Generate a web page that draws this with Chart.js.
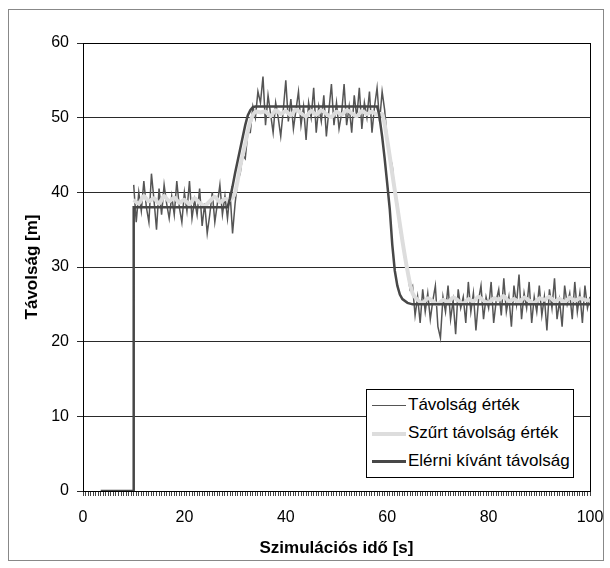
<!DOCTYPE html>
<html>
<head>
<meta charset="utf-8">
<script src="https://cdn.jsdelivr.net/npm/chart.js@4/dist/chart.umd.min.js"></script>
<style>
  body { margin: 0; background: #fff; }
  #wrap { position: relative; width: 610px; height: 568px; }
  #frame { position: absolute; left: 8px; top: 9px; width: 594px; height: 550px; border: 1px solid #888; pointer-events: none; }
  #legend { position: absolute; left: 366px; top: 389px; width: 206px; height: 86px; border: 1px solid #000; background: #fff;
            font-family: "Liberation Sans", Arial, sans-serif; font-size: 17px; color: #000; padding-top: 1px; box-sizing: content-box; }
  #legend .row { height: 28px; line-height: 28px; white-space: nowrap; }
  #legend .swatch { display: inline-block; width: 34px; margin-left: 5px; margin-right: 2px; vertical-align: middle; }
</style>
</head>
<body>
<div id="wrap">
  <canvas id="chart" width="610" height="568"></canvas>
  <div id="frame"></div>
  <div id="legend"></div>
</div>
<script>
const seriesNames = ['Távolság érték', 'Szűrt távolság érték', 'Elérni kívánt távolság'];
const xTitle = 'Szimulációs idő [s]';
const yTitle = 'Távolság [m]';

// measured distance, one sample every 0.5 s from 10 s to 100 s
const rawStart = 10;
const rawStep = 0.5;
const rawValues = [
  // 10 .. 29.5
  41, 36, 40, 37.5, 41.5, 38, 36, 42.5, 39, 35,
  40.5, 37, 41, 38.5, 36.5, 39.5, 37, 41.5, 38, 36,
  40, 37.5, 41.5, 36.5, 39, 37, 40.5, 35.5, 38.5, 34.5,
  37, 40, 36, 38.5, 41, 37, 39.5, 36.5, 40, 34.5,
  // 30 .. 35.5
  38.5, 41.5, 42.5, 45, 44.5, 48, 48, 51.5, 50, 53.5, 52, 55.5,
  // 36 .. 59.5
  49, 53, 50.5, 48, 52, 50, 47.5, 51, 55, 49.5,
  52.5, 48.5, 51, 53.5, 49, 51.5, 47, 52, 50, 54,
  48, 51.5, 49.5, 53, 47.5, 51, 54.5, 49, 52, 48.5,
  50.5, 54.5, 49, 51.5, 48, 53, 50, 54, 48.5, 52,
  50, 53.5, 48, 51.5, 54, 49.5, 53.5, 51,
  // 60 .. 66
  47, 45, 43.5, 40, 38.5, 35, 33.5, 31, 29.5, 27, 27.5, 23.5, 26,
  // 66.5 .. 100
  22.5, 27, 24, 26.5, 23, 25.5, 27.5, 22, 20.5, 26,
  24, 27.5, 23, 25.5, 21, 27, 24.5, 26, 22.5, 28,
  24, 26.5, 21.5, 25.5, 27.5, 23, 26, 24.5, 28, 22.5,
  25.5, 27, 23.5, 28.5, 24, 26, 22, 27.5, 25, 29,
  23, 26.5, 24.5, 28, 22.5, 26, 24, 27.5, 23.5, 26,
  21.5, 27, 24.5, 28.5, 23, 25.5, 22, 27.5, 25, 26.5,
  23, 28, 24, 26.5, 22.5, 27.5, 24.5, 26
];

// filtered distance, one sample every 1 s from 10 s to 100 s
const filtStart = 10;
const filtStep = 1;
const filtValues = [
  39, 38.5, 39.5, 38.8, 39.2, 38.5, 39.5, 38.8, 39.3, 38.6,
  39, 38.4, 39.2, 38.6, 38.2, 38.8, 39.4, 38.7, 39.1,
  39, 40, 43.5, 46.5, 49.5, 50.8, 50.7,
  50.8, 50.2, 51, 50.5, 50.9, 50.3, 51.1, 50.6, 50.2, 50.9,
  50.4, 51, 50.5, 50.1, 50.8, 50.4, 51, 50.6, 50.2, 50.9,
  50.5, 50.8, 50.4, 50.5,
  47, 42.5, 38, 33.5, 29.5, 26.5, 25.6,
  25.2, 25.8, 25.4, 25, 25.6, 25.3, 25.9, 25.5, 25.1, 25.7,
  25.4, 26, 25.5, 25.2, 25.8, 25.6, 26.1, 25.4, 25.7, 25.3,
  25.9, 25.5, 25.2, 25.8, 25.6, 26, 25.4, 25.7, 25.3, 25.9,
  25.5, 25.8, 25.6, 25.5
];

// desired distance
const desiredTimes = [3.5, 10, 10, 28.5, 29, 29.5, 30, 31, 32, 32.5, 33, 33.5, 34, 58, 58.4, 59, 59.5, 60, 60.5, 61, 61.5, 62, 62.5, 63, 64, 65, 100];
const desiredValues = [0, 0, 38, 38, 39.2, 40.8, 42.6, 45.8, 49, 50.3, 51, 51.4, 51.5, 51.5, 50.5, 47.5, 44.5, 41.2, 37.8, 33, 29.5, 27.5, 26.3, 25.7, 25.2, 25, 25];

const xTicks = [0, 20, 40, 60, 80, 100];
const yTicks = [0, 10, 20, 30, 40, 50, 60];

const colors = ['#555555', '#dddddd', '#474747'];
const widths = [1.5, 4, 2.5];
const font = '"Liberation Sans", Arial, sans-serif';

const rawData = rawValues.map((v, i) => ({ x: rawStart + i * rawStep, y: v }));
const filtData = filtValues.map((v, i) => ({ x: filtStart + i * filtStep, y: v }));
const desiredData = desiredTimes.map((t, i) => ({ x: t, y: desiredValues[i] }));

// Plot area frame
const frameBox = {
    id: 'frameBox',
    afterDatasetsDraw(chart) {
        const a = chart.chartArea;
        const c = chart.ctx;
        c.save();
        c.strokeStyle = '#000';
        c.lineWidth = 1;
        c.strokeRect(Math.round(a.left) + 0.5, Math.round(a.top) + 0.5, Math.round(a.right - a.left), Math.round(a.bottom - a.top));
        c.restore();
    }
};

new Chart(document.getElementById('chart').getContext('2d'), {
    type: 'line',
    data: {
        datasets: [
            { label: seriesNames[0], data: rawData, borderColor: colors[0], borderWidth: widths[0], pointRadius: 0, tension: 0, order: 3 },
            { label: seriesNames[1], data: filtData, borderColor: colors[1], borderWidth: widths[1], pointRadius: 0, tension: 0.3, order: 2 },
            { label: seriesNames[2], data: desiredData, borderColor: colors[2], borderWidth: widths[2], pointRadius: 0, tension: 0, order: 1 }
        ]
    },
    options: {
        responsive: false,
        animation: false,
        devicePixelRatio: 1,
        layout: { padding: { left: 20, right: 20, top: 43, bottom: 5 } },
        plugins: { legend: { display: false }, tooltip: { enabled: false } },
        scales: {
            x: {
                type: 'linear',
                min: 0,
                max: 100,
                afterFit: s => { s.height = 72; s.paddingLeft = 0; s.paddingRight = 0; },
                ticks: {
                    stepSize: 0.5,
                    autoSkip: false,
                    maxRotation: 0,
                    padding: 12,
                    color: '#000',
                    font: { family: font, size: 16 },
                    callback: v => xTicks.includes(v) ? String(v) : ''
                },
                grid: { drawOnChartArea: false, tickLength: 5, color: '#444' },
                border: { color: '#000', width: 1 },
                title: { display: true, text: xTitle, color: '#000', font: { family: font, size: 17, weight: 'bold' }, padding: { top: 4, bottom: 4 } }
            },
            y: {
                min: 0,
                max: 60,
                afterFit: s => { s.width = 63; },
                afterBuildTicks: s => { s.ticks = yTicks.map(v => ({ value: v })); },
                ticks: { padding: 8, color: '#000', font: { family: font, size: 16 } },
                grid: { color: '#2a2a2a', tickLength: 6 },
                border: { color: '#000', width: 1 },
                title: { display: true, text: yTitle, color: '#000', font: { family: font, size: 17, weight: 'bold' }, padding: { top: 2, bottom: 4 } }
            }
        }
    },
    plugins: [frameBox]
});

// Legend box inside the plot
const legend = document.getElementById('legend');
seriesNames.forEach((name, i) => {
    const row = document.createElement('div');
    row.className = 'row';
    const sw = document.createElement('span');
    sw.className = 'swatch';
    sw.style.height = widths[i] + 'px';
    sw.style.background = colors[i];
    row.appendChild(sw);
    row.appendChild(document.createTextNode(name));
    legend.appendChild(row);
});
</script>
</body>
</html>
